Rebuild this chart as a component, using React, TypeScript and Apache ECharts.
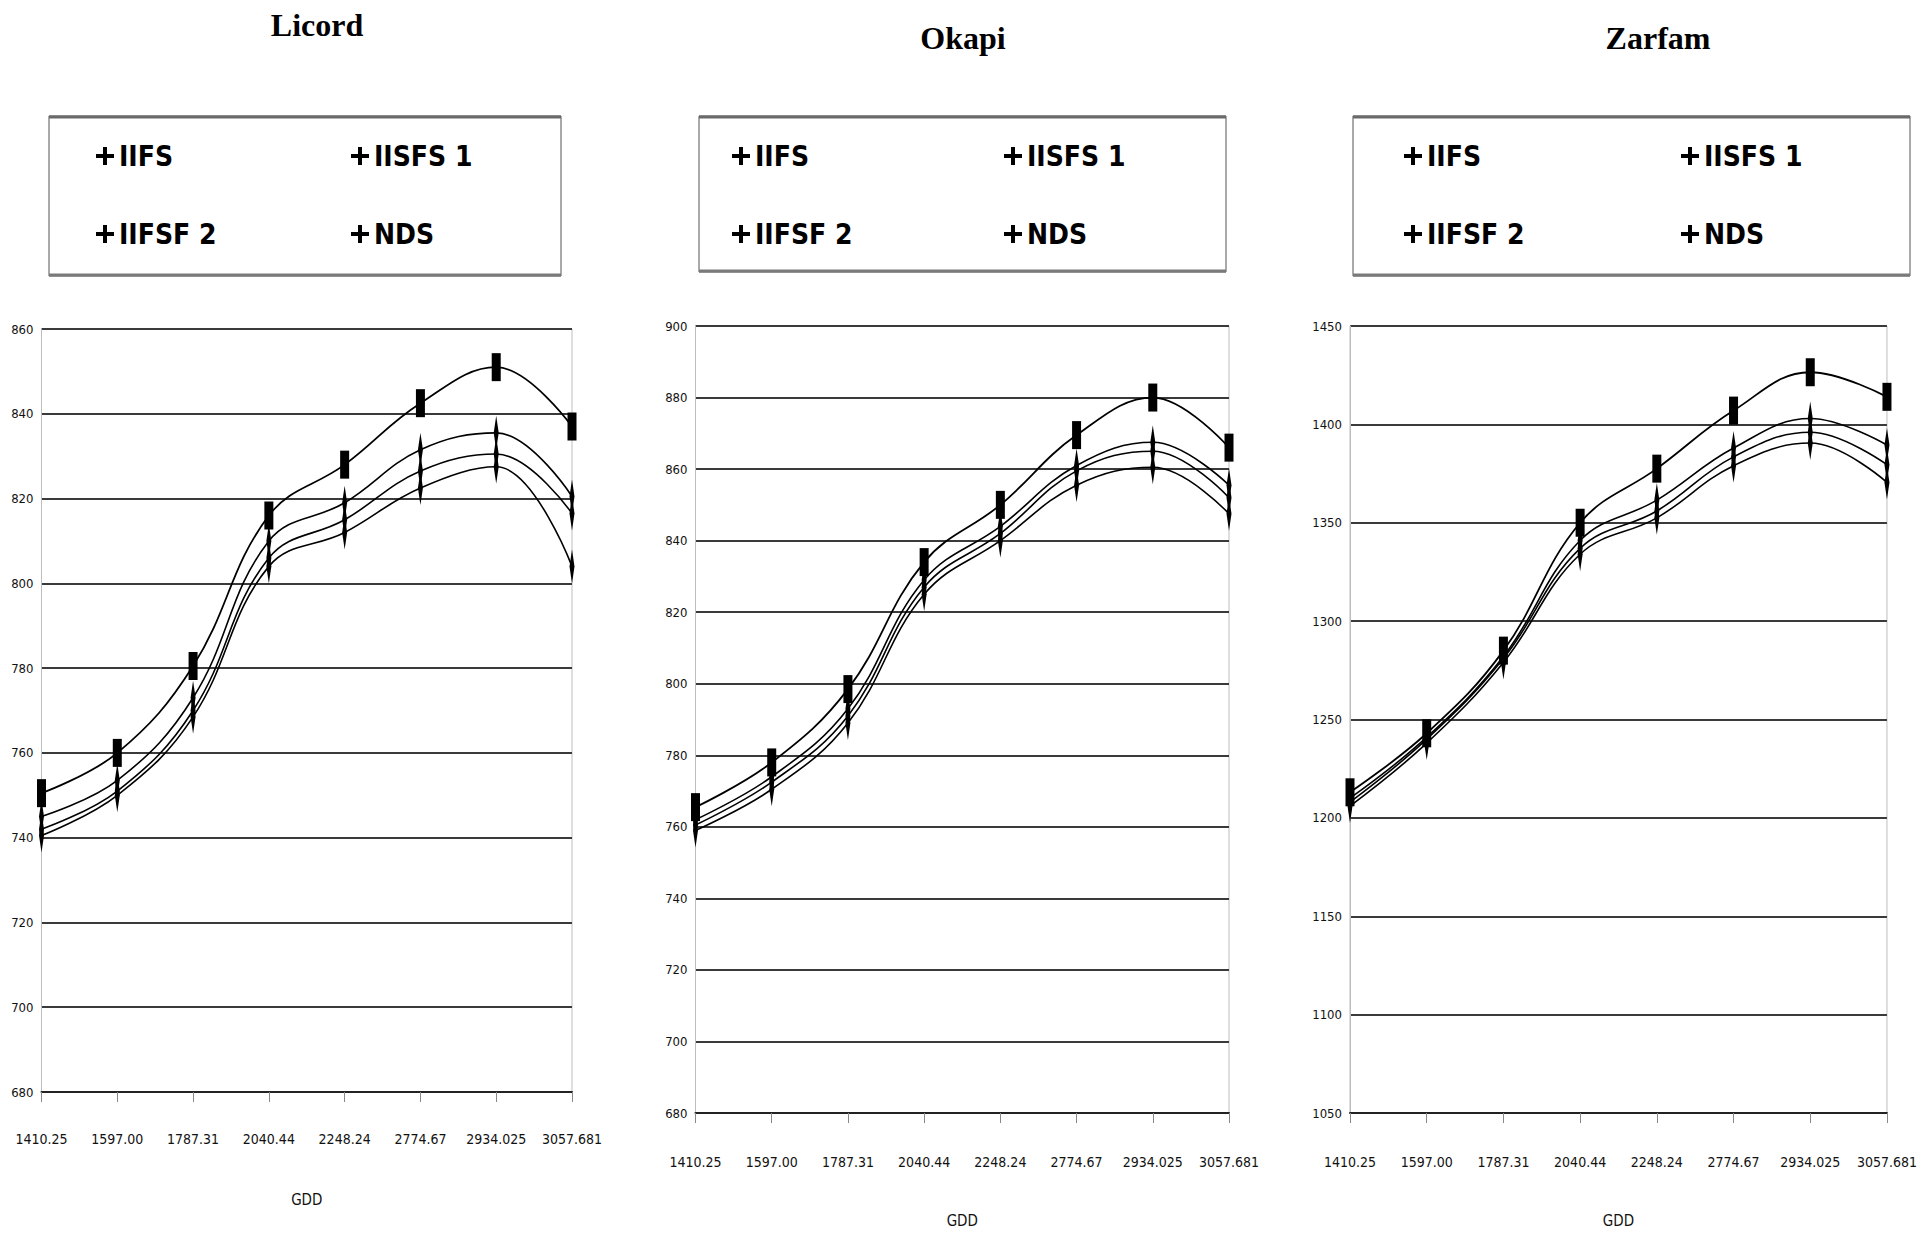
import React, { useEffect, useRef } from "react";
import * as echarts from "echarts";

// ---- data ----
const GDD_LABELS = ["1410.25", "1597.00", "1787.31", "2040.44", "2248.24", "2774.67", "2934.025", "3057.681"];
const SERIES_NAMES = ["IIFS", "IISFS 1", "IIFSF 2", "NDS"];

const licordIIFS = [750.5, 760, 780.5, 816, 828, 842.5, 851, 837];
const licordIISFS1 = [745, 753.5, 773, 810, 819, 831.5, 835.5, 820.5];
const licordIIFSF2 = [742, 751, 770, 806, 815, 826.5, 830.5, 816.5];
const licordNDS = [740.5, 750, 768.5, 804, 812, 822.5, 827.5, 804];

const okapiIIFS = [765.5, 778, 798.5, 834, 850, 869.5, 880, 866];
const okapiIISFS1 = [762, 774, 793, 829, 844, 861, 867.5, 855.5];
const okapiIIFSF2 = [760.5, 772.5, 791, 827, 842, 859.5, 865, 852];
const okapiNDS = [759, 770.5, 789, 825, 840, 855.5, 860.5, 847.5];

const zarfamIIFS = [1213, 1243, 1285, 1350, 1377.5, 1407, 1426.5, 1414];
const zarfamIISFS1 = [1210, 1241, 1282, 1341, 1361.5, 1388, 1403, 1389.5];
const zarfamIIFSF2 = [1208, 1240, 1281, 1337, 1356, 1383.5, 1396, 1379.5];
const zarfamNDS = [1206, 1238, 1279, 1334, 1352.5, 1379, 1390.5, 1370.5];

const TITLES = ["Licord", "Okapi", "Zarfam"];
const Y_MIN = [680, 680, 1050];
const Y_MAX = [860, 900, 1450];
const Y_STEP = [20, 20, 50];
const X_NAME = "GDD";

// ---- layout / style ----
const NARROW = '"Liberation Sans Narrow", "Arial Narrow", "DejaVu Sans Condensed", sans-serif';
const SERIF = '"Liberation Serif", "Times New Roman", serif';
const PLUS = "path://M7,0h4v7h7v4h-7v7h-4v-7h-7v-4h7z";
const SPINDLE = "path://M2,0 L4,20 L2,40 L0,20 Z";

const panels = [
  {
    data: [licordIIFS, licordIISFS1, licordIIFSF2, licordNDS],
    grid: { left: 41.5, top: 329, width: 530.5, height: 763 },
    title: { x: 312, top: 4 },
    legendCols: [96, 351],
    legendRows: [142, 220],
    frame: { x: 49, y: 116, width: 512, height: 160 },
    labelMargin: 40,
    nameGap: 100,
  },
  {
    data: [okapiIIFS, okapiIISFS1, okapiIIFSF2, okapiNDS],
    grid: { left: 695.5, top: 326, width: 533.5, height: 787 },
    title: { x: 958, top: 17 },
    legendCols: [732, 1004],
    legendRows: [142, 220],
    frame: { x: 699, y: 116, width: 527, height: 156 },
    labelMargin: 42,
    nameGap: 100,
  },
  {
    data: [zarfamIIFS, zarfamIISFS1, zarfamIIFSF2, zarfamNDS],
    grid: { left: 1350, top: 326, width: 544.5, height: 787 },
    title: { x: 1653, top: 17 },
    legendCols: [1404, 1681],
    legendRows: [142, 220],
    frame: { x: 1353, y: 116, width: 557, height: 160 },
    labelMargin: 42,
    nameGap: 100,
  },
];

function buildOption() {
  const grids: any[] = [];
  const xAxes: any[] = [];
  const yAxes: any[] = [];
  const series: any[] = [];
  const titles: any[] = [];
  const legends: any[] = [];
  const graphics: any[] = [];

  panels.forEach((p, i) => {
    grids.push({
      ...p.grid,
      show: true,
      borderColor: "#bdbdbd",
      borderWidth: 1,
      backgroundColor: "transparent",
      containLabel: false,
    });
    xAxes.push({
      type: "category",
      gridIndex: i,
      data: GDD_LABELS,
      boundaryGap: false,
      name: X_NAME,
      nameLocation: "middle",
      nameGap: p.nameGap,
      nameTextStyle: { fontFamily: NARROW, fontSize: 15, color: "#111" },
      axisLine: { show: true, lineStyle: { color: "#222", width: 2 } },
      axisTick: { show: true, length: 10, lineStyle: { color: "#888", width: 1 } },
      axisLabel: { margin: p.labelMargin, fontFamily: NARROW, fontSize: 14, color: "#111", interval: 0 },
      splitLine: { show: false },
    });
    yAxes.push({
      type: "value",
      gridIndex: i,
      min: Y_MIN[i],
      max: Y_MAX[i],
      interval: Y_STEP[i],
      axisLine: { show: true, lineStyle: { color: "#bdbdbd", width: 1 } },
      axisTick: { show: false },
      axisLabel: {
        margin: 8,
        fontFamily: NARROW,
        fontSize: 13,
        color: "#111",
        formatter: (v: number) => String(v),
      },
      splitLine: { show: true, lineStyle: { color: "#3a3a3a", width: 2 } },
    });
    titles.push({
      text: TITLES[i],
      left: p.title.x,
      top: p.title.top,
      textAlign: "center",
      textStyle: { fontFamily: SERIF, fontWeight: "bold", fontSize: 32, color: "#000" },
    });
    // legend entries placed in 2x2 layout
    const order = [
      [0, 0],
      [1, 0],
      [0, 1],
      [1, 1],
    ];
    SERIES_NAMES.forEach((name, k) => {
      const [c, r] = order[k];
      legends.push({
        data: [name],
        left: p.legendCols[c],
        top: p.legendRows[r],
        padding: 0,
        icon: PLUS,
        itemWidth: 18,
        itemHeight: 18,
        textStyle: { fontFamily: NARROW, fontWeight: "bold", fontSize: 28, color: "#000" },
      });
    });
    const f = p.frame;
    graphics.push({
      type: "rect",
      shape: { x: f.x, y: f.y, width: f.width, height: f.height },
      style: { fill: "none", stroke: "#555", lineWidth: 1 },
      silent: true,
    });
    graphics.push({
      type: "line",
      shape: { x1: f.x, y1: f.y + 1, x2: f.x + f.width, y2: f.y + 1 },
      style: { stroke: "#6a6a6a", lineWidth: 3 },
      silent: true,
    });
    graphics.push({
      type: "line",
      shape: { x1: f.x, y1: f.y + f.height - 1, x2: f.x + f.width, y2: f.y + f.height - 1 },
      style: { stroke: "#7a7a7a", lineWidth: 3 },
      silent: true,
    });

    p.data.forEach((values, k) => {
      const isTop = k === 0;
      series.push({
        type: "line",
        name: SERIES_NAMES[k],
        xAxisIndex: i,
        yAxisIndex: i,
        data: values,
        smooth: 0.4,
        symbol: isTop ? "rect" : SPINDLE,
        symbolSize: isTop ? [9, 28] : [5, 34],
        showSymbol: true,
        itemStyle: { color: "#000" },
        lineStyle: { color: "#000", width: isTop ? 1.8 : 1.6 },
        z: 3,
      });
    });
  });

  return {
    animation: false,
    backgroundColor: "#fff",
    title: titles,
    legend: legends,
    grid: grids,
    xAxis: xAxes,
    yAxis: yAxes,
    series,
    graphic: graphics,
  };
}

export default function App() {
  const ref = useRef<HTMLDivElement>(null);
  useEffect(() => {
    document.body.style.margin = "0";
    const chart = echarts.init(ref.current!, null, { renderer: "svg" });
    chart.setOption(buildOption() as any);
    return () => chart.dispose();
  }, []);
  return <div ref={ref} style={{ width: 1920, height: 1238, background: "#fff" }} />;
}
